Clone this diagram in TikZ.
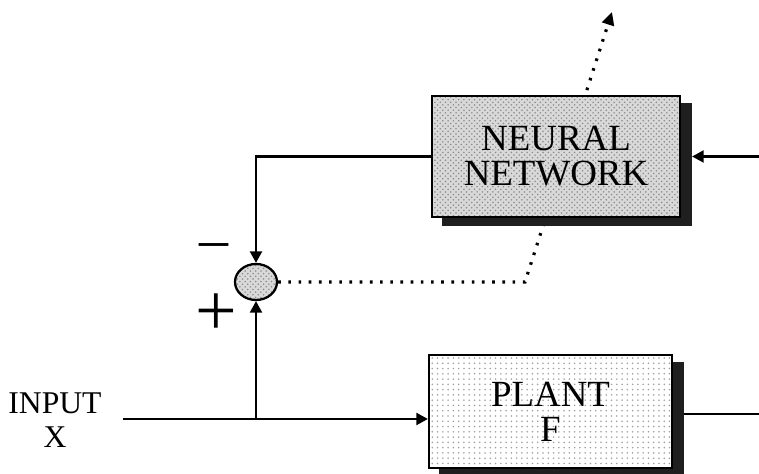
\documentclass[tikz,border=0pt]{standalone}
\usepackage{fontspec}
\setmainfont{Liberation Serif}
\usetikzlibrary{arrows.meta,positioning,calc,patterns,backgrounds,shapes.geometric}
\tikzset{
  blokk/.style={draw,line width=1.3pt,minimum width=4.96cm,minimum height=2.42cm,align=center,
                font=\fontsize{21}{20}\selectfont},
  halo/.style={preaction={fill=gray!30},pattern=crosshatch dots,pattern color=gray!90},
  uzem/.style={preaction={fill=white},pattern=dots,pattern color=gray!75},
  osszegzo/.style={ellipse,draw,line width=1.3pt,minimum width=0.84cm,minimum height=0.72cm,inner sep=0pt,
                   preaction={fill=gray!30},pattern=crosshatch dots,pattern color=gray!90},
  jel/.style={inner sep=0pt},
  felirat/.style={align=center,font=\fontsize{18}{19.5}\selectfont},
  nyil/.style={-{Triangle[length=2.3mm,width=2.4mm]},line width=1.2pt},
  vonal/.style={line width=1.2pt},
  pontnyil/.style={line width=1.8pt,dash pattern=on 1.5pt off 4.3pt,-{Triangle[length=2.6mm,width=2.4mm]}},
  arnyek/.style={fill=black!88},
}
\begin{document}
\begin{tikzpicture}
  \useasboundingbox (0,0) rectangle (15.18,9.48);
  \node[blokk,halo] (nn) at (11.12,6.35) {NEURAL\\NETWORK};
  \node[blokk,uzem,minimum width=4.86cm,minimum height=2.26cm] (plant) at (11.01,1.25) {PLANT\\F};
  \node[osszegzo] (sum) at (5.12,3.84) {};
  \node[jel,font=\fontsize{33}{33}\selectfont] (minus) at (4.28,4.46) {--};
  \node[jel,font=\fontsize{42}{42}\selectfont] (plus) at (4.32,3.18) {+};
  \node[felirat] (input) at (1.1,1.08) {INPUT\\X};
  \coordinate (be) at (2.46,1.10);
  \coordinate (ki) at (15.18,1.20);
  \coordinate (vissza) at (15.18,6.35);
  \coordinate (tores) at (10.5,3.84);
  \coordinate (tanul) at (12.24,9.24);
  % shadows and the learning path go behind the blocks
  \begin{scope}[on background layer]
    \draw[pontnyil] (sum.east) -- (tores) -- (tanul);
    \fill[arnyek] ($(nn.south west)+(0.22,-0.16)$) rectangle ($(nn.north east)+(0.22,-0.16)$);
    \fill[arnyek] ($(plant.south west)+(0.22,-0.16)$) rectangle ($(plant.north east)+(0.22,-0.16)$);
  \end{scope}
  \draw[nyil] (be) -- (be -| plant.west);
  \draw[nyil] (sum |- be) -- (sum.south);
  \draw[nyil] (nn.west) -| (sum.north);
  \draw[nyil] (vissza) -- ($(nn.east)+(0.22,0)$);
  \draw[vonal] ($(plant.east)+(0.22,-0.05)$) -- (ki);
\end{tikzpicture}
\end{document}
